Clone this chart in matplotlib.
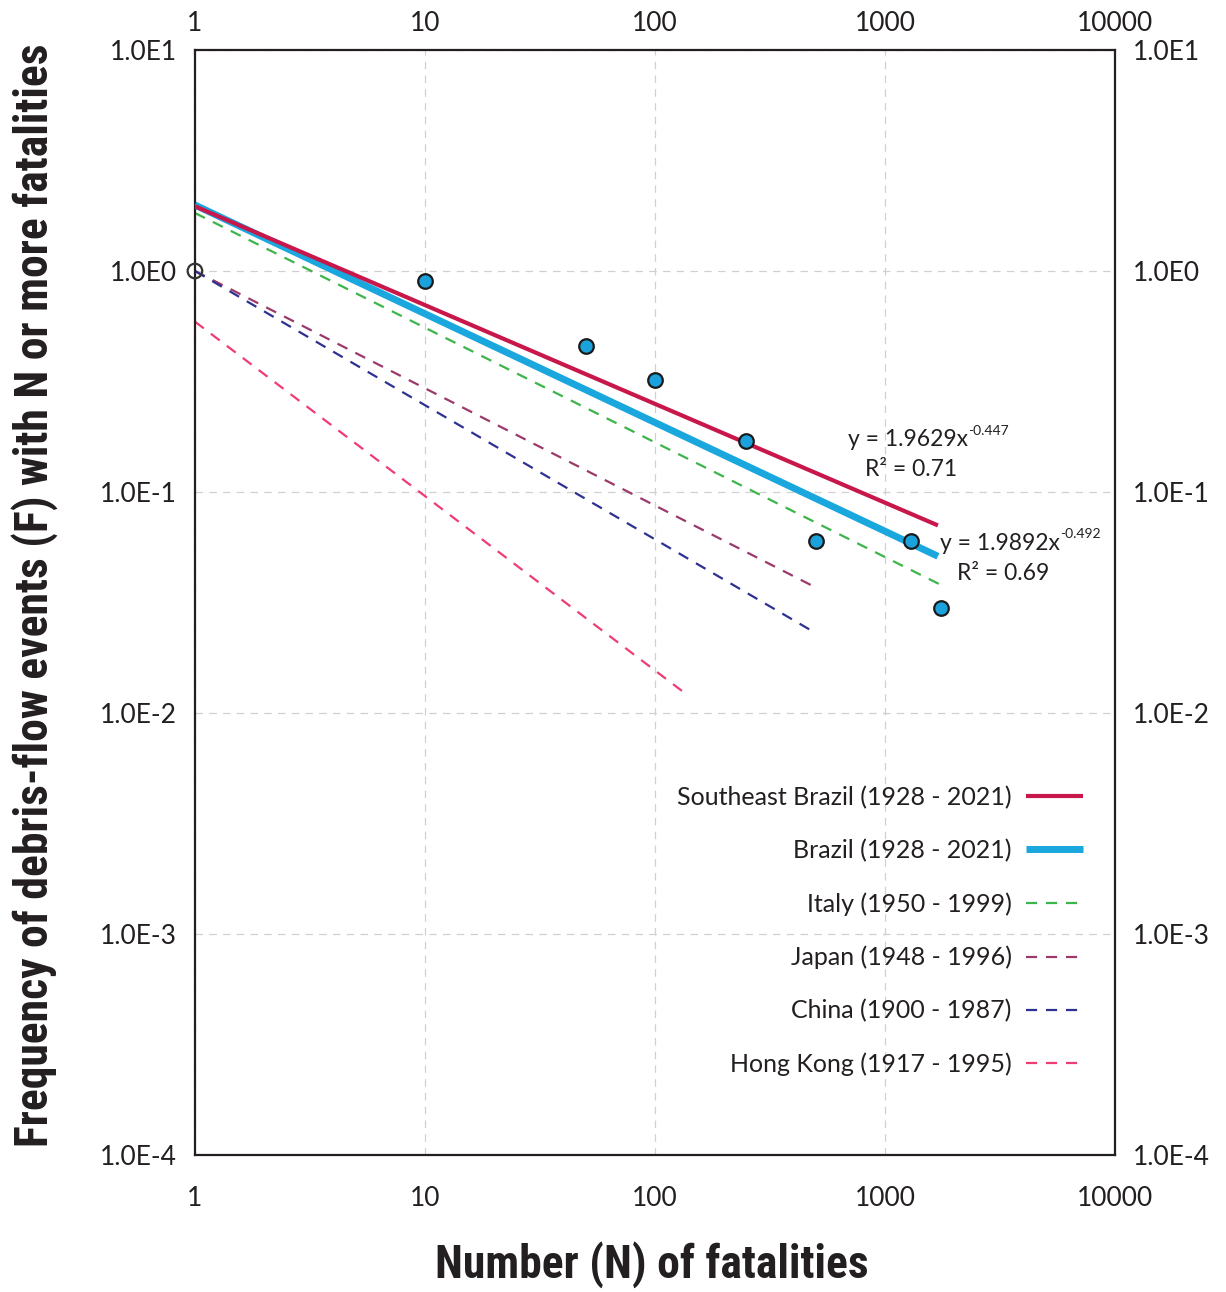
import numpy as np
import matplotlib
matplotlib.use("Agg")
import matplotlib.pyplot as plt
from matplotlib import font_manager

plt.rcParams['font.family'] = ['Lato', 'DejaVu Sans']

# observed frequency-number points (Brazil)
obs_n = [1, 10, 50, 100, 250, 500, 1300, 1750]
obs_f = [1.0, 0.90, 0.46, 0.32, 0.17, 0.06, 0.06, 0.030]

# fitted power laws F = a * N^b
se_brazil_a, se_brazil_b = 1.9629, -0.447
brazil_a, brazil_b = 1.9892, -0.492
fit_n_range = [1, 1700]

# reference curves from other regions (end points on log-log axes)
italy_n, italy_f = [1, 1750], [1.83, 0.038]
japan_n, japan_f = [1, 500], [1.0, 0.037]
china_n, china_f = [1, 500], [1.0, 0.023]
hongkong_n, hongkong_f = [1, 135], [0.59, 0.0123]

xtick_vals = [1, 10, 100, 1000, 10000]
xtick_labels = ["1", "10", "100", "1000", "10000"]
ytick_vals = [1e1, 1e0, 1e-1, 1e-2, 1e-3, 1e-4]
ytick_labels = ["1.0E1", "1.0E0", "1.0E-1", "1.0E-2", "1.0E-3", "1.0E-4"]

ink = '#231f20'

# pick a narrow face for the axis titles if one is installed
names = {f.name for f in font_manager.fontManager.ttflist}
title_font = 'Roboto'
for cand in ['Liberation Sans Narrow', 'Roboto Condensed', 'Open Sans Condensed', 'Noto Sans Display']:
    if cand in names:
        title_font = cand
        break

fig = plt.figure(figsize=(12.26, 12.92), dpi=100)
ax = fig.add_axes([0.159, 0.106, 0.7504, 0.8553])
ax.set_xscale('log')
ax.set_yscale('log')
ax.set_xlim(1, 10000)
ax.set_ylim(1e-4, 1e1)

ax.grid(True, which='major', color='#d0d0d0', linestyle=(0, (6, 5)), linewidth=0.9)
ax.set_axisbelow(True)

ax.plot(italy_n, italy_f, color='#3cb54a', lw=1.6, ls=(0, (5, 4)), label='Italy (1950 - 1999)', zorder=2)
ax.plot(japan_n, japan_f, color='#9b3a6a', lw=1.6, ls=(0, (5, 4)), label='Japan (1948 - 1996)', zorder=2)
ax.plot(china_n, china_f, color='#2e3192', lw=1.6, ls=(0, (5, 4)), label='China (1900 - 1987)', zorder=2)
ax.plot(hongkong_n, hongkong_f, color='#ee3d73', lw=1.6, ls=(0, (5, 4)), label='Hong Kong (1917 - 1995)', zorder=2)

fit_n = np.array(fit_n_range, dtype=float)
ax.plot(fit_n, brazil_a * fit_n ** brazil_b, color='#1aa7de', lw=5, solid_capstyle='butt',
        label='Brazil (1928 - 2021)', zorder=3)
ax.plot(fit_n, se_brazil_a * fit_n ** se_brazil_b, color='#c8174a', lw=3, solid_capstyle='butt',
        label='Southeast Brazil (1928 - 2021)', zorder=3)

ax.scatter(obs_n[1:], obs_f[1:], s=110, color='#1ba1db', edgecolor='#1a1a1a', linewidth=1.6, zorder=5)
ax.scatter(obs_n[:1], obs_f[:1], s=110, facecolor='none', edgecolor='#333333', linewidth=1.6,
           zorder=5, clip_on=False)

# fit equations, exponent set as a small raised text after the base
def equation(x, y, a, b, r2):
    base = fig.text(x / 1226, 1 - y / 1292, f'y = {a:.4f}x', fontsize=16.5, va='center',
                    ha='left', color=ink)
    ax.annotate(f'{b:.3f}', xy=(1, 0.62), xycoords=base, fontsize=10, va='bottom', ha='left',
                color=ink)
    fig.text((x + 17) / 1226, 1 - (y + 30) / 1292, f'R² = {r2:.2f}', fontsize=16.5,
             va='center', ha='left', color=ink)

equation(848, 440, se_brazil_a, se_brazil_b, 0.71)
equation(940, 543, brazil_a, brazil_b, 0.69)

handles, labels = ax.get_legend_handles_labels()
order = [5, 4, 0, 1, 2, 3]
ax.legend([handles[i] for i in order], [labels[i] for i in order], loc='lower right',
          bbox_to_anchor=(0.979, 0.06), frameon=False, markerfirst=False, fontsize=18,
          handlelength=2.3, handletextpad=0.55, labelspacing=1.2, borderpad=0,
          labelcolor=ink)

ax.set_xticks(xtick_vals, xtick_labels)
ax.set_yticks(ytick_vals, ytick_labels)
ax.minorticks_off()
ax.tick_params(axis='both', length=0, labelsize=19, colors=ink, right=True, labelright=True)
ax.tick_params(axis='x', pad=22)
ax.tick_params(axis='y', pad=13)

# top scale labels sit closer to the frame than the bottom ones
top = ax.twiny()
top.set_xscale('log')
top.set_xlim(ax.get_xlim())
top.set_xticks(xtick_vals, xtick_labels)
top.minorticks_off()
top.tick_params(axis='x', length=0, labelsize=19, colors=ink, pad=10)

for sp in ax.spines.values():
    sp.set_linewidth(1.6)
    sp.set_color(ink)
for sp in top.spines.values():
    sp.set_visible(False)

xl = ax.set_xlabel('Number (N) of fatalities', fontsize=30, fontweight='bold',
                   fontfamily=title_font, color=ink, va='center')
ax.xaxis.set_label_coords(0.497, -0.099)
yl = ax.set_ylabel('Frequency of debris-flow events (F) with N or more fatalities', fontsize=30,
                   fontweight='bold', fontfamily=title_font, color=ink, va='center')
ax.yaxis.set_label_coords(-0.174, 0.507)

# size the titles to the span they cover
fig.canvas.draw()
r = fig.canvas.get_renderer()
xw = xl.get_window_extent(r).width
xl.set_fontsize(30 * 433 / xw)
yh = yl.get_window_extent(r).height
yl.set_fontsize(min(30 * 1105 / yh, 40))

fig.savefig('out.png', dpi=100)
